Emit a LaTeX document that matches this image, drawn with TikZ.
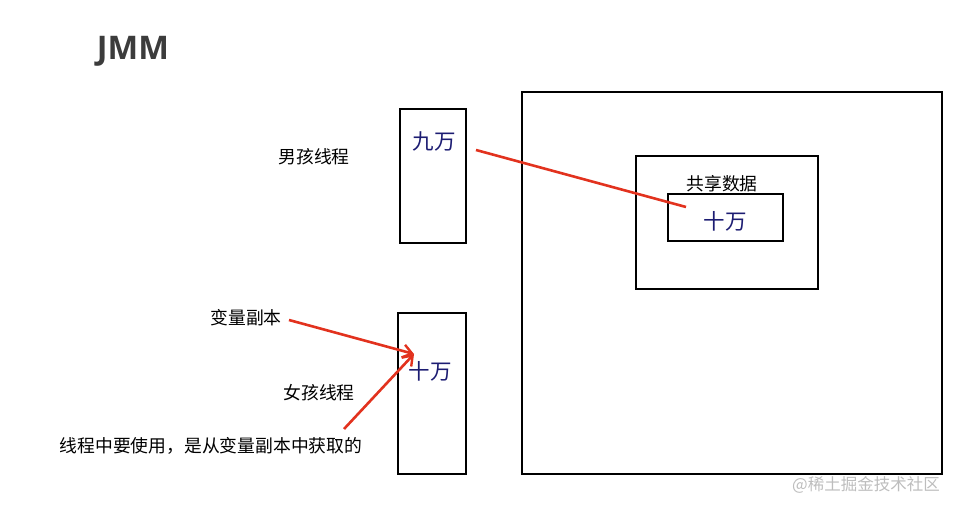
\documentclass[tikz,border=0pt]{standalone}
\usepackage{fontspec}
\setmainfont{Noto Sans CJK SC}
\newfontfamily\titlefont{Open Sans}
\usepackage{xcolor}
\definecolor{navy}{HTML}{1C1C72}
\definecolor{redline}{HTML}{E2321E}
\definecolor{darktxt}{HTML}{3C3C3C}
\definecolor{mark}{HTML}{BDBDBD}
\usetikzlibrary{arrows.meta}

\begin{document}
\begin{tikzpicture}[x=1pt,y=-1pt]

\useasboundingbox (0,0) rectangle (976,510);

\tikzstyle{box}=[
	rectangle,
	draw=black,
	line width=2pt,
	inner sep=0pt
]
\tikzstyle{lbl}=[
	inner sep=0pt,
	font=\fontsize{17.8}{19}\selectfont
]
\tikzstyle{val}=[
	inner sep=0pt,
	text=navy,
	font=\fontsize{21.5}{23}\selectfont
]
\tikzstyle{red}=[draw=redline, line width=2.6pt]
\tikzstyle{arr}=[red, -{Straight Barb[length=9pt,width=13pt,line width=2.4pt]}]

\node[inner sep=0pt, text=darktxt, font=\titlefont\bfseries\fontsize{32.5}{34}\selectfont]
	(title) at (133,51) {JMM};

% threads
\node[box, minimum width=66pt, minimum height=134pt] (boy) at (433,176) {};
\node[lbl] (boylbl) at (314,157) {男孩线程};
\node[val] (boyval) at (434,141) {九万};

\node[box, minimum width=68pt, minimum height=161pt] (girl) at (432,393) {};
\node[lbl] (girllbl) at (319,393) {女孩线程};
\node[val] (girlval) at (430,371) {十万};

% main memory
\node[box, minimum width=420pt, minimum height=382pt] (mem) at (732,283) {};
\node[box, minimum width=182pt, minimum height=133pt] (shared) at (727,222.5) {};
\node[lbl] (sharedlbl) at (722,184) {共享数据};
\node[box, minimum width=115pt, minimum height=47pt] (inner) at (725.5,217.5) {};
\node[val] (innerval) at (725,221) {十万};

% notes
\node[lbl] (copylbl) at (246,318) {变量副本};
\node[lbl] (uselbl) at (211,446) {线程中要使用，是从变量副本中获取的};

\node[inner sep=0pt, text=mark, font=\fontsize{16.5}{18}\selectfont]
	(mark) at (866,485) {@稀土掘金技术社区};

\coordinate (boyout) at (476,150);
\coordinate (sharedin) at (686,207);
\coordinate (copyout) at (289,320);
\coordinate (useout) at (344,429);
\coordinate (girlin) at (414,354);

\draw[red] (boyout) -- (sharedin);
\draw[arr] (copyout) -- (girlin);
\draw[arr] (useout) -- (girlin);

\end{tikzpicture}
\end{document}
